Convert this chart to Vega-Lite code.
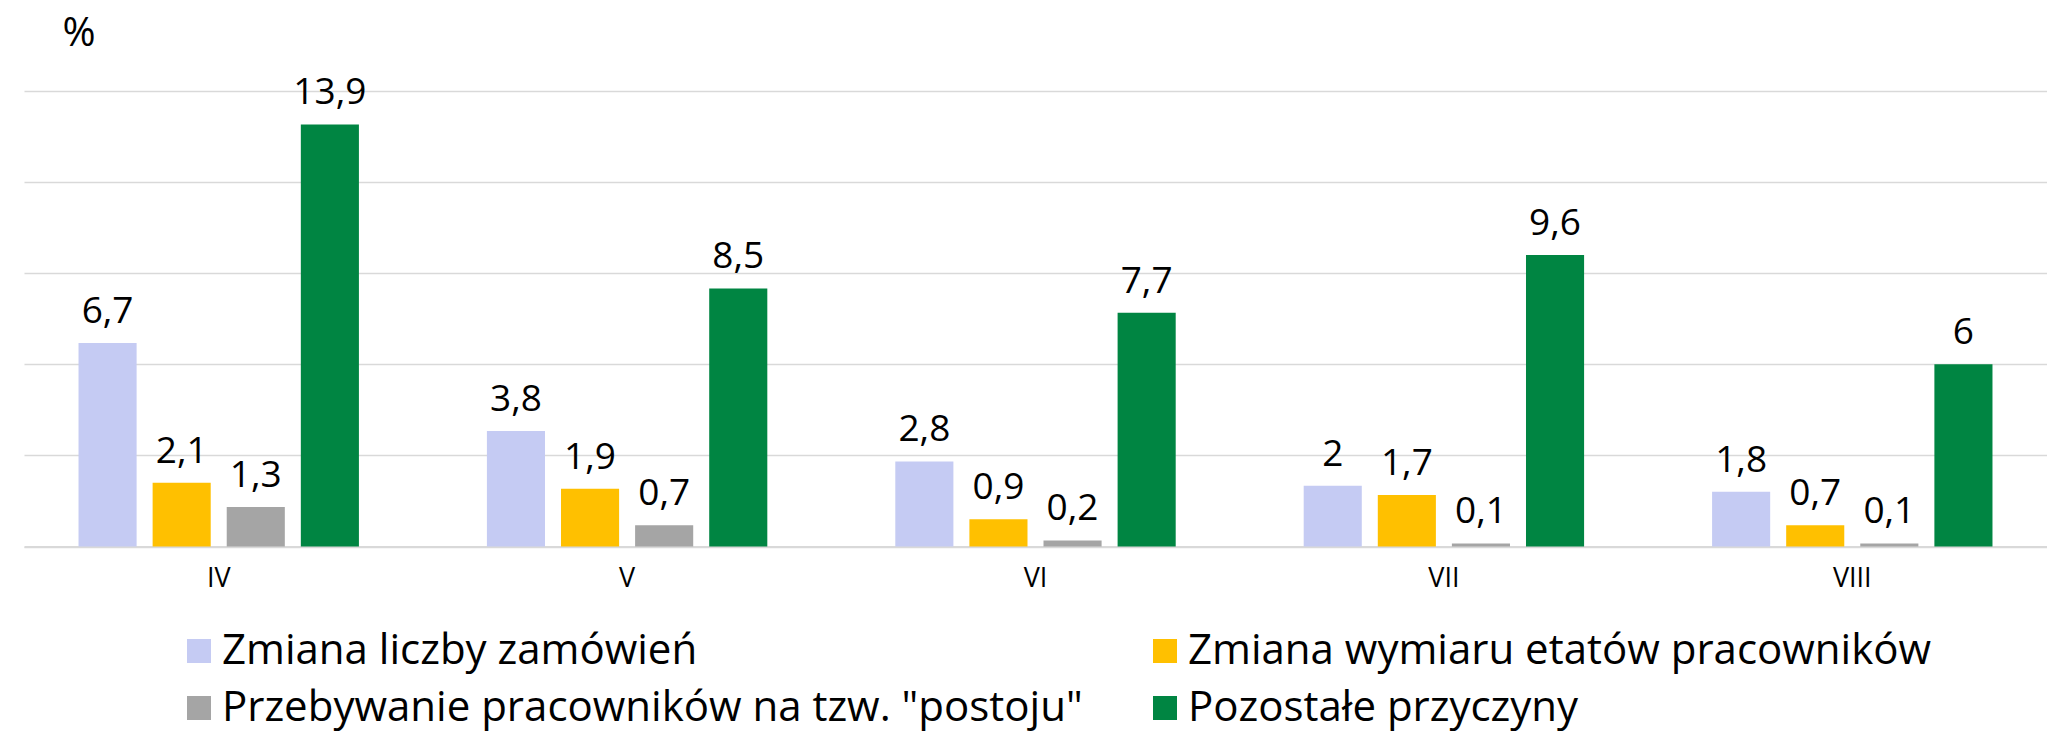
{
  "$schema": "https://vega.github.io/schema/vega-lite/v6.json",
  "width": 2023,
  "height": 455.5,
  "autosize": {"type": "none"},
  "padding": {"left": 24, "top": 91, "right": 0, "bottom": 187.5},
  "config": {
    "font": "Open Sans",
    "view": {"stroke": null},
    "locale": {"number": {"decimal": ",", "thousands": " ", "grouping": [3], "currency": ["", " zł"]}}
  },
  "data": {
    "values": [
      {"miesiac": "IV", "przyczyna": "Zmiana liczby zamówień", "wartosc": 6.7},
      {"miesiac": "IV", "przyczyna": "Zmiana wymiaru etatów pracowników", "wartosc": 2.1},
      {"miesiac": "IV", "przyczyna": "Przebywanie pracowników na tzw. \"postoju\"", "wartosc": 1.3},
      {"miesiac": "IV", "przyczyna": "Pozostałe przyczyny", "wartosc": 13.9},
      {"miesiac": "V", "przyczyna": "Zmiana liczby zamówień", "wartosc": 3.8},
      {"miesiac": "V", "przyczyna": "Zmiana wymiaru etatów pracowników", "wartosc": 1.9},
      {"miesiac": "V", "przyczyna": "Przebywanie pracowników na tzw. \"postoju\"", "wartosc": 0.7},
      {"miesiac": "V", "przyczyna": "Pozostałe przyczyny", "wartosc": 8.5},
      {"miesiac": "VI", "przyczyna": "Zmiana liczby zamówień", "wartosc": 2.8},
      {"miesiac": "VI", "przyczyna": "Zmiana wymiaru etatów pracowników", "wartosc": 0.9},
      {"miesiac": "VI", "przyczyna": "Przebywanie pracowników na tzw. \"postoju\"", "wartosc": 0.2},
      {"miesiac": "VI", "przyczyna": "Pozostałe przyczyny", "wartosc": 7.7},
      {"miesiac": "VII", "przyczyna": "Zmiana liczby zamówień", "wartosc": 2},
      {"miesiac": "VII", "przyczyna": "Zmiana wymiaru etatów pracowników", "wartosc": 1.7},
      {"miesiac": "VII", "przyczyna": "Przebywanie pracowników na tzw. \"postoju\"", "wartosc": 0.1},
      {"miesiac": "VII", "przyczyna": "Pozostałe przyczyny", "wartosc": 9.6},
      {"miesiac": "VIII", "przyczyna": "Zmiana liczby zamówień", "wartosc": 1.8},
      {"miesiac": "VIII", "przyczyna": "Zmiana wymiaru etatów pracowników", "wartosc": 0.7},
      {"miesiac": "VIII", "przyczyna": "Przebywanie pracowników na tzw. \"postoju\"", "wartosc": 0.1},
      {"miesiac": "VIII", "przyczyna": "Pozostałe przyczyny", "wartosc": 6}
    ]
  },
  "encoding": {
    "x": {
      "field": "miesiac", "type": "nominal",
      "sort": ["IV", "V", "VI", "VII", "VIII"],
      "scale": {"paddingInner": 0.3134, "paddingOuter": 0.1335},
      "axis": {"title": null, "labelAngle": 0, "labelFontSize": 27, "labelColor": "#000", "ticks": false, "domain": true, "domainColor": "#d9d9d9", "domainWidth": 2, "labelPadding": 19, "grid": false}
    },
    "xOffset": {
      "field": "przyczyna", "type": "nominal",
      "sort": ["Zmiana liczby zamówień", "Zmiana wymiaru etatów pracowników", "Przebywanie pracowników na tzw. \"postoju\"", "Pozostałe przyczyny"],
      "scale": {"paddingInner": 0.216, "paddingOuter": 0}
    },
    "y": {
      "field": "wartosc", "type": "quantitative",
      "scale": {"domain": [0, 15], "nice": false},
      "axis": {"grid": true, "gridColor": "#d9d9d9", "gridWidth": 1.5, "values": [0, 3, 6, 9, 12, 15], "labels": false, "ticks": false, "domain": false, "title": "%", "titleAngle": 0, "titleX": 54.5, "titleY": -46, "titleAlign": "center", "titleBaseline": "alphabetic", "titleFontSize": 40, "titleFontWeight": "normal", "titleColor": "#000"}
    }
  },
  "layer": [
    {
      "mark": {"type": "bar"},
      "encoding": {
        "color": {
          "field": "przyczyna", "type": "nominal",
          "scale": {
            "domain": ["Zmiana liczby zamówień", "Przebywanie pracowników na tzw. \"postoju\"", "Zmiana wymiaru etatów pracowników", "Pozostałe przyczyny"],
            "range": ["#c5cbf3", "#a5a5a5", "#ffc000", "#008542"]
          },
          "legend": {"orient": "none", "legendX": 154, "legendY": 539, "columns": 2, "title": null, "symbolType": "square", "symbolSize": 576, "symbolStrokeWidth": 0, "labelFontSize": 42, "labelColor": "#000", "labelOffset": 2, "columnPadding": 61, "rowPadding": 15, "padding": 0, "labelLimit": 1000}
        }
      }
    },
    {
      "mark": {"type": "text", "baseline": "alphabetic", "dy": -20, "fontSize": 37, "color": "#000"},
      "encoding": {"text": {"field": "wartosc", "type": "quantitative", "format": ".1~f"}}
    }
  ]
}
